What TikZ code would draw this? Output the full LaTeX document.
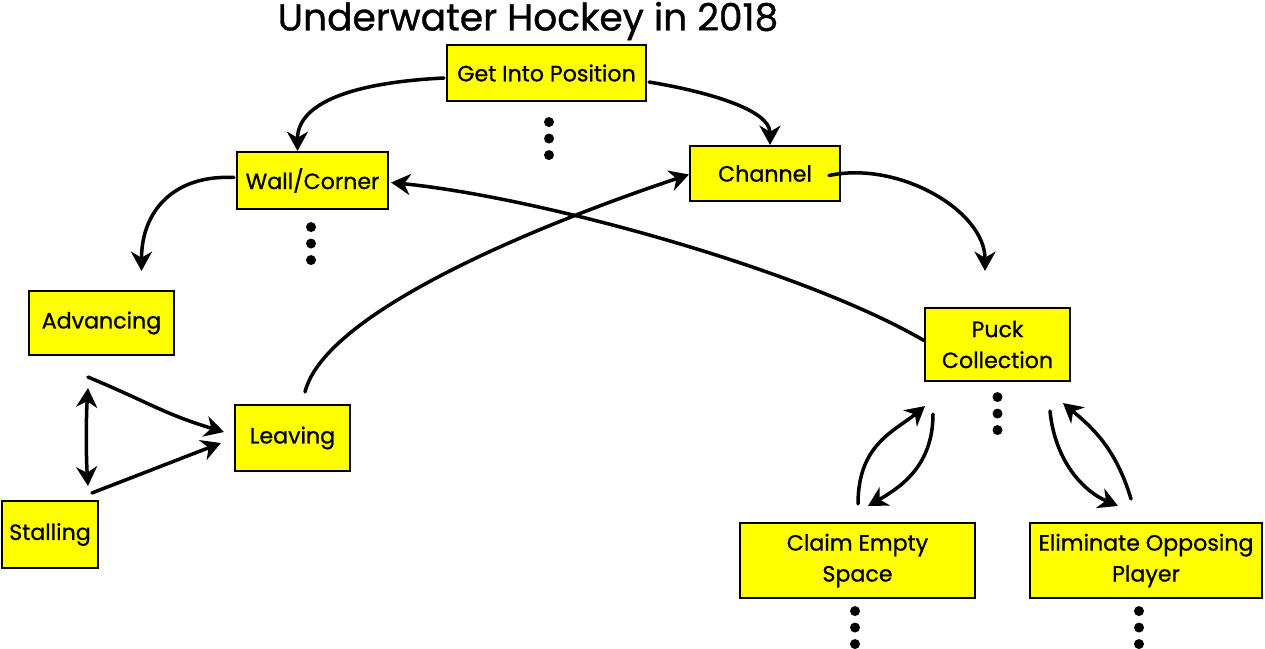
\documentclass[tikz,border=0pt]{standalone}
\usepackage{fontspec}
\setmainfont{Poppins}[FakeBold=0.9]
\usetikzlibrary{calc,arrows.meta}
\definecolor{boxyellow}{RGB}{255,255,0}

\begin{document}
\begin{tikzpicture}[x=0.02cm,y=-0.02cm,
  box/.style={draw,fill=boxyellow,line width=1.2pt,inner sep=0pt,align=center,
    font=\fontsize{12.6}{17.6}\selectfont},
  arr/.style={line width=2pt,line cap=round,-{Stealth[length=11pt,width=12pt,inset=3.5pt]}},
  darr/.style={line width=2pt,line cap=round,{Stealth[length=11pt,width=12pt,inset=3.5pt]}-{Stealth[length=11pt,width=12pt,inset=3.5pt]}}]
\useasboundingbox (0,0) rectangle (1265,649);
\node (title) at (528,21) {\fontsize{21.4}{25}\selectfont Underwater Hockey in 2018};
\node[box,minimum width=3.98cm,minimum height=1.12cm] (gip) at (546.5,73) {Get Into Position};
\node[box,minimum width=3.02cm,minimum height=1.14cm] (wall) at (312.5,180.5) {Wall/Corner};
\node[box,minimum width=3.0cm,minimum height=1.1cm] (chan) at (765,173.5) {Channel};
\node[box,minimum width=2.9cm,minimum height=1.28cm] (adv) at (101.5,323) {Advancing};
\node[box,minimum width=2.3cm,minimum height=1.32cm] (leave) at (292.5,438) {Leaving};
\node[box,minimum width=1.92cm,minimum height=1.34cm] (stall) at (50,534.5) {Stalling};
\node[box,minimum width=2.9cm,minimum height=1.46cm] (puck) at (997.5,344.5) {Puck\\Collection};
\node[box,minimum width=4.7cm,minimum height=1.5cm] (claim) at (857.5,560.5) {Claim Empty\\Space};
\node[box,minimum width=4.64cm,minimum height=1.5cm] (elim) at (1146,560.5) {Eliminate Opposing\\Player};

\foreach \n/\dx/\dy in {gip/2.5/20,wall/-1.5/17,puck/0/15,claim/-2.5/12,elim/-7/12}
  \foreach \k in {0,1,2}
    \fill ($(\n.south)+(\dx,\dy+16.5*\k)$) circle (0.1cm);

\draw[arr] ($(gip.west)+(-2,5)$) .. controls +(-100,5) and +(0,-45) .. ($(wall.north)+(-15,0)$);
\draw[arr] ($(gip.east)+(2,9)$) .. controls +(60,10) and +(0,-35) .. ($(chan.north)+(5,0)$);
\draw[arr] ($(wall.west)+(-2,-3)$) .. controls +(-60,-3) and +(0,-60) .. ($(adv.north)+(40,-19)$);
\draw[arr] ($(chan.east)+(-12,2)$) .. controls +(70,-15) and +(0,-60) .. ($(puck.north)+(-12.5,-36)$);
\draw[arr] ($(puck.west)+(0,-4)$) .. controls +(-120,-70) and +(150,15) .. ($(wall.east)+(2,2)$);
\draw[arr] ($(leave.north)+(12.5,-12)$) .. controls +(20,-80) and +(-150,50) .. ($(chan.west)+(0,1)$);
\draw[arr] ($(adv.south)+(-13.5,21)$) .. controls +(60,25) and +(-60,-18) .. ($(leave.west)+(-10,-6)$);
\draw[arr] ($(stall.north)+(42,-7)$) -- ($(leave.west)+(-13,5)$);
\draw[darr] ($(adv.south)+(-13.5,32)$) .. controls +(-2,30) and +(-2,-30) .. ($(stall.north)+(38,-14)$);
\draw[arr] ($(claim.north)+(0.5,-18)$) .. controls +(0,-60) and +(-30,25) .. ($(puck.south)+(-72.5,24)$);
\draw[arr] ($(puck.south)+(-64.5,32)$) .. controls +(0,50) and +(35,-20) .. ($(claim.north)+(10.5,-16)$);
\draw[arr] ($(puck.south)+(52.5,29)$) .. controls +(5,50) and +(-35,-15) .. ($(elim.north)+(-28,-16)$);
\draw[arr] ($(elim.north)+(-15,-23)$) .. controls +(-15,-50) and +(30,25) .. ($(puck.south)+(65.5,21)$);
\end{tikzpicture}
\end{document}
